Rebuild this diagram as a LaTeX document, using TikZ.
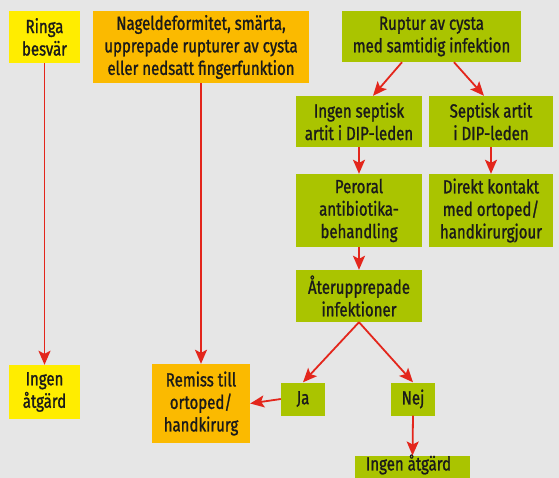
\documentclass[tikz,border=0pt]{standalone}
\usepackage{fontspec}
\setmainfont{Fira Sans}[FakeStretch=0.79, FakeBold=1.2]
\usetikzlibrary{arrows.meta,calc}
\definecolor{bg}{HTML}{E6E6E6}
\definecolor{cyel}{HTML}{FFED00}
\definecolor{corange}{HTML}{FBBA00}
\definecolor{cgreen}{HTML}{AAC400}
\definecolor{cred}{HTML}{E3261C}
\definecolor{ctext}{HTML}{1A1A1A}
\tikzset{
  box/.style={inner sep=0pt, align=center, text=ctext,
    font=\fontsize{19}{22.5}\selectfont},
  ybox/.style={box, fill=cyel},
  obox/.style={box, fill=corange},
  gbox/.style={box, fill=cgreen},
  arr/.style={draw=cred, line width=1.8pt,
    -{Stealth[length=14pt,width=12pt,inset=3pt]}}
}
\begin{document}
\begin{tikzpicture}[x=1pt,y=-1pt]
\fill[bg] (0,0) rectangle (559,478);
\clip (0,0) rectangle (559,478);
\useasboundingbox (0,0) rectangle (559,478);
% top row
\node[ybox, minimum width=71pt, minimum height=52pt] (ringa) at (44.5,37) {Ringa\\besvär};
\node[obox, minimum width=216pt, minimum height=72pt] (nagel) at (201,47) {Nageldeformitet, smärta,\\upprepade rupturer av cysta\\eller nedsatt fingerfunktion};
\node[gbox, minimum width=179pt, minimum height=51pt] (ruptur) at (431.5,36.5) {Ruptur av cysta\\med samtidig infektion};
% second row
\node[gbox, minimum width=126pt, minimum height=51pt] (ingsep) at (359,121.5) {Ingen septisk\\artit i DIP-leden};
\node[gbox, minimum width=124pt, minimum height=51pt] (sep) at (491,121.5) {Septisk artit\\i DIP-leden};
% third row
\node[gbox, minimum width=126pt, minimum height=73pt] (peroral) at (359,210.5) {Peroral\\antibiotika-\\behandling};
\node[gbox, minimum width=124pt, minimum height=73pt] (direkt) at (491,210.5) {Direkt kontakt\\med ortoped/\\handkirurgjour};
% fourth
\node[gbox, minimum width=126pt, minimum height=52pt] (ater) at (359,296) {Återupprepade\\infektioner};
% bottom
\node[ybox, minimum width=71pt, minimum height=54pt] (ingen1) at (44.5,392) {Ingen\\åtgärd};
\node[obox, minimum width=98pt, minimum height=79pt] (remiss) at (201,403.5) {Remiss till\\ortoped/\\handkirurg};
\node[gbox, minimum width=44pt, minimum height=33pt] (ja) at (303,399) {Ja};
\node[gbox, minimum width=44pt, minimum height=33pt] (nej) at (413,399) {Nej};
\node[gbox, minimum width=115pt, minimum height=30pt, anchor=north] (ingen2) at (412.5,455.5) {};
\node[box, anchor=center] (ingen2t) at (408.5,464.5) {Ingen åtgärd};
% connectors
\draw[arr] (ringa.south) -- (ingen1.north);
\draw[arr] (nagel.south) -- (remiss.north);
\draw[arr] ($(ruptur.south)+(-29.5,0)$) -- ($(ingsep.north)+(14,0)$);
\draw[arr] ($(ruptur.south)+(22.5,0)$) -- ($(sep.north)+(-7,0)$);
\draw[arr] (ingsep.south) -- (peroral.north);
\draw[arr] (sep.south) -- (direkt.north);
\draw[arr] (peroral.south) -- (ater.north);
\draw[arr] (ater.south) -- (ja.north);
\draw[arr] (ater.south) -- (nej.north);
\draw[arr] (ja.west) -- (remiss.east);
\draw[arr] (nej.south) -- (ingen2.north);
\end{tikzpicture}
\end{document}
